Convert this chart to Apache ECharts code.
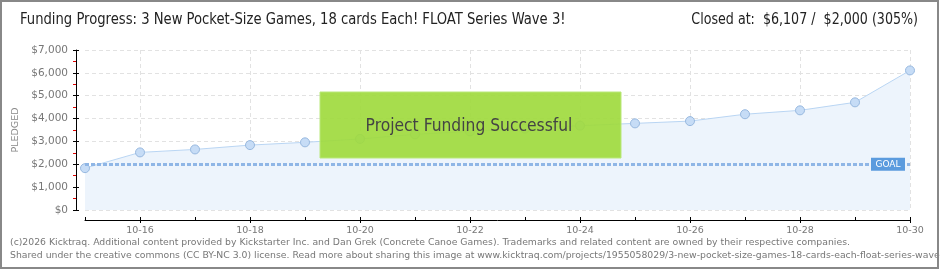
<!DOCTYPE html>
<html>
<head>
<meta charset="utf-8">
<script src="https://cdn.jsdelivr.net/npm/echarts@6/dist/echarts.min.js"></script>
<style>
  html, body { margin: 0; padding: 0; background: #fff; }
  #chart { width: 940px; height: 270px; }
</style>
</head>
<body>
<div id="chart"></div>
<script>
// Daily pledge totals for the campaign
var days = ['10-15','10-16','10-17','10-18','10-19','10-20','10-21','10-22',
            '10-23','10-24','10-25','10-26','10-27','10-28','10-29','10-30'];
var pledged = [1830, 2520, 2650, 2840, 2960, 3110, 3310, 3440,
               3560, 3690, 3790, 3890, 4190, 4360, 4710, 6107];
var goal = 2000;

var titleText = 'Funding Progress: 3 New Pocket-Size Games, 18 cards Each! FLOAT Series Wave 3!';
var closedText = 'Closed at:  $6,107 /  $2,000 (305%)';
var bannerText = 'Project Funding Successful';
var footer1 = '(c)2026 Kicktraq. Additional content provided by Kickstarter Inc. and Dan Grek (Concrete Canoe Games). Trademarks and related content are owned by their respective companies.';
var footer2 = 'Shared under the creative commons (CC BY-NC 3.0) license. Read more about sharing this image at www.kicktraq.com/projects/1955058029/3-new-pocket-size-games-18-cards-each-float-series-wave-3/';

var headFont = '"DejaVu Sans Condensed", "Liberation Sans Narrow", sans-serif';
var smallFont = '"DejaVu Sans", Verdana, sans-serif';

function money(v) {
  return '$' + v.toString().replace(/\B(?=(\d{3})+(?!\d))/g, ',');
}

var chart = echarts.init(document.getElementById('chart'), null, { renderer: 'canvas' });

chart.setOption({
  animation: false,
  grid: { left: 85, right: 30, top: 50, bottom: 60 },
  xAxis: [{
    type: 'category',
    data: days,
    boundaryGap: false,
    offset: 10,
    axisLine: { show: true, onZero: false, lineStyle: { color: '#000', width: 1 } },
    axisTick: { show: true, length: 3, lineStyle: { color: '#000' } },
    axisLabel: {
      color: '#777', fontSize: 9.5, fontFamily: smallFont, margin: 6,
      interval: function (i) { return i % 2 === 1; }
    },
    splitLine: { show: true, lineStyle: { color: '#e2e2e2', type: [4, 3] } }
  }, {
    // inner half of the day ticks, so they cross the axis line
    type: 'category',
    data: days,
    boundaryGap: false,
    position: 'bottom',
    offset: 10,
    axisLine: { show: false, onZero: false },
    axisTick: { show: true, inside: true, length: 3, lineStyle: { color: '#000' } },
    axisLabel: { show: false },
    splitLine: { show: false }
  }],
  yAxis: [{
    type: 'value',
    min: 0, max: 7000, interval: 1000,
    offset: 9,
    name: 'PLEDGED',
    nameLocation: 'middle',
    nameRotate: 90,
    nameGap: 47,
    nameTextStyle: { color: '#888', fontSize: 9.5, fontFamily: smallFont },
    axisLine: { show: true, onZero: false, lineStyle: { color: '#000', width: 1 } },
    axisTick: { show: true, length: 3, lineStyle: { color: '#000' } },
    minorTick: { show: true, splitNumber: 2, length: 3, lineStyle: { color: '#e00000' } },
    axisLabel: {
      color: '#777', fontSize: 10.5, fontFamily: smallFont, margin: 8,
      formatter: function (v) { return money(v); }
    },
    splitLine: { show: true, lineStyle: { color: '#e2e2e2', type: [4, 3] } }
  }, {
    // inner half of the major ticks
    type: 'value',
    min: 0, max: 7000, interval: 1000,
    position: 'left',
    offset: 9,
    axisLine: { show: false, onZero: false },
    axisTick: { show: true, inside: true, length: 3, lineStyle: { color: '#000' } },
    axisLabel: { show: false },
    splitLine: { show: false }
  }],
  series: [{
    type: 'line',
    data: pledged,
    symbol: 'circle',
    symbolSize: 9,
    lineStyle: { color: '#b9d5f3', width: 1 },
    itemStyle: { color: '#c6dcf6', borderColor: '#97b8df', borderWidth: 1 },
    areaStyle: { color: '#edf4fc', opacity: 1 },
    z: 3,
    markLine: {
      silent: true,
      symbol: 'none',
      lineStyle: { color: '#8fb6e6', width: 3, type: [4, 2] },
      label: { show: false },
      data: [{ yAxis: goal }]
    },
    markPoint: {
      silent: true,
      symbol: 'rect',
      symbolSize: [34, 13],
      symbolOffset: [-22, 0],
      itemStyle: { color: '#5b9bde' },
      label: { show: true, formatter: 'GOAL', color: '#fff', fontSize: 9, fontFamily: smallFont },
      data: [{ coord: [days.length - 1, goal] }]
    }
  }],
  graphic: [
    {
      type: 'rect', z: 100,
      shape: { x: 320, y: 92, width: 301, height: 66 },
      style: { fill: 'rgba(160,218,62,0.92)', stroke: '#b9e87a', lineWidth: 1 }
    },
    {
      type: 'text', z: 101,
      x: 469, y: 126, scaleX: 0.96,
      style: {
        text: bannerText, fill: '#444',
        font: '18px ' + headFont, textAlign: 'center', textVerticalAlign: 'middle',
        textShadowColor: '#fff', textShadowOffsetX: 1, textShadowOffsetY: 1, textShadowBlur: 0
      }
    },
    {
      type: 'text', x: 20, y: 20, scaleX: 0.915,
      style: { text: titleText, fill: '#222', font: '16px ' + headFont, textVerticalAlign: 'middle' }
    },
    {
      type: 'text', x: 918, y: 20, scaleX: 0.88,
      style: { text: closedText, fill: '#222', font: '16px ' + headFont, textAlign: 'right', textVerticalAlign: 'middle' }
    },
    {
      type: 'text', x: 10, y: 243,
      style: { text: footer1, fill: '#777', font: '9.3px ' + smallFont, textVerticalAlign: 'middle' }
    },
    {
      type: 'text', x: 10, y: 256,
      style: { text: footer2, fill: '#777', font: '9.3px ' + smallFont, textVerticalAlign: 'middle' }
    },
    {
      type: 'rect', z: 200,
      shape: { x: 1, y: 1, width: 937, height: 267 },
      style: { fill: 'none', stroke: '#888', lineWidth: 2 }
    }
  ]
});
</script>
</body>
</html>
